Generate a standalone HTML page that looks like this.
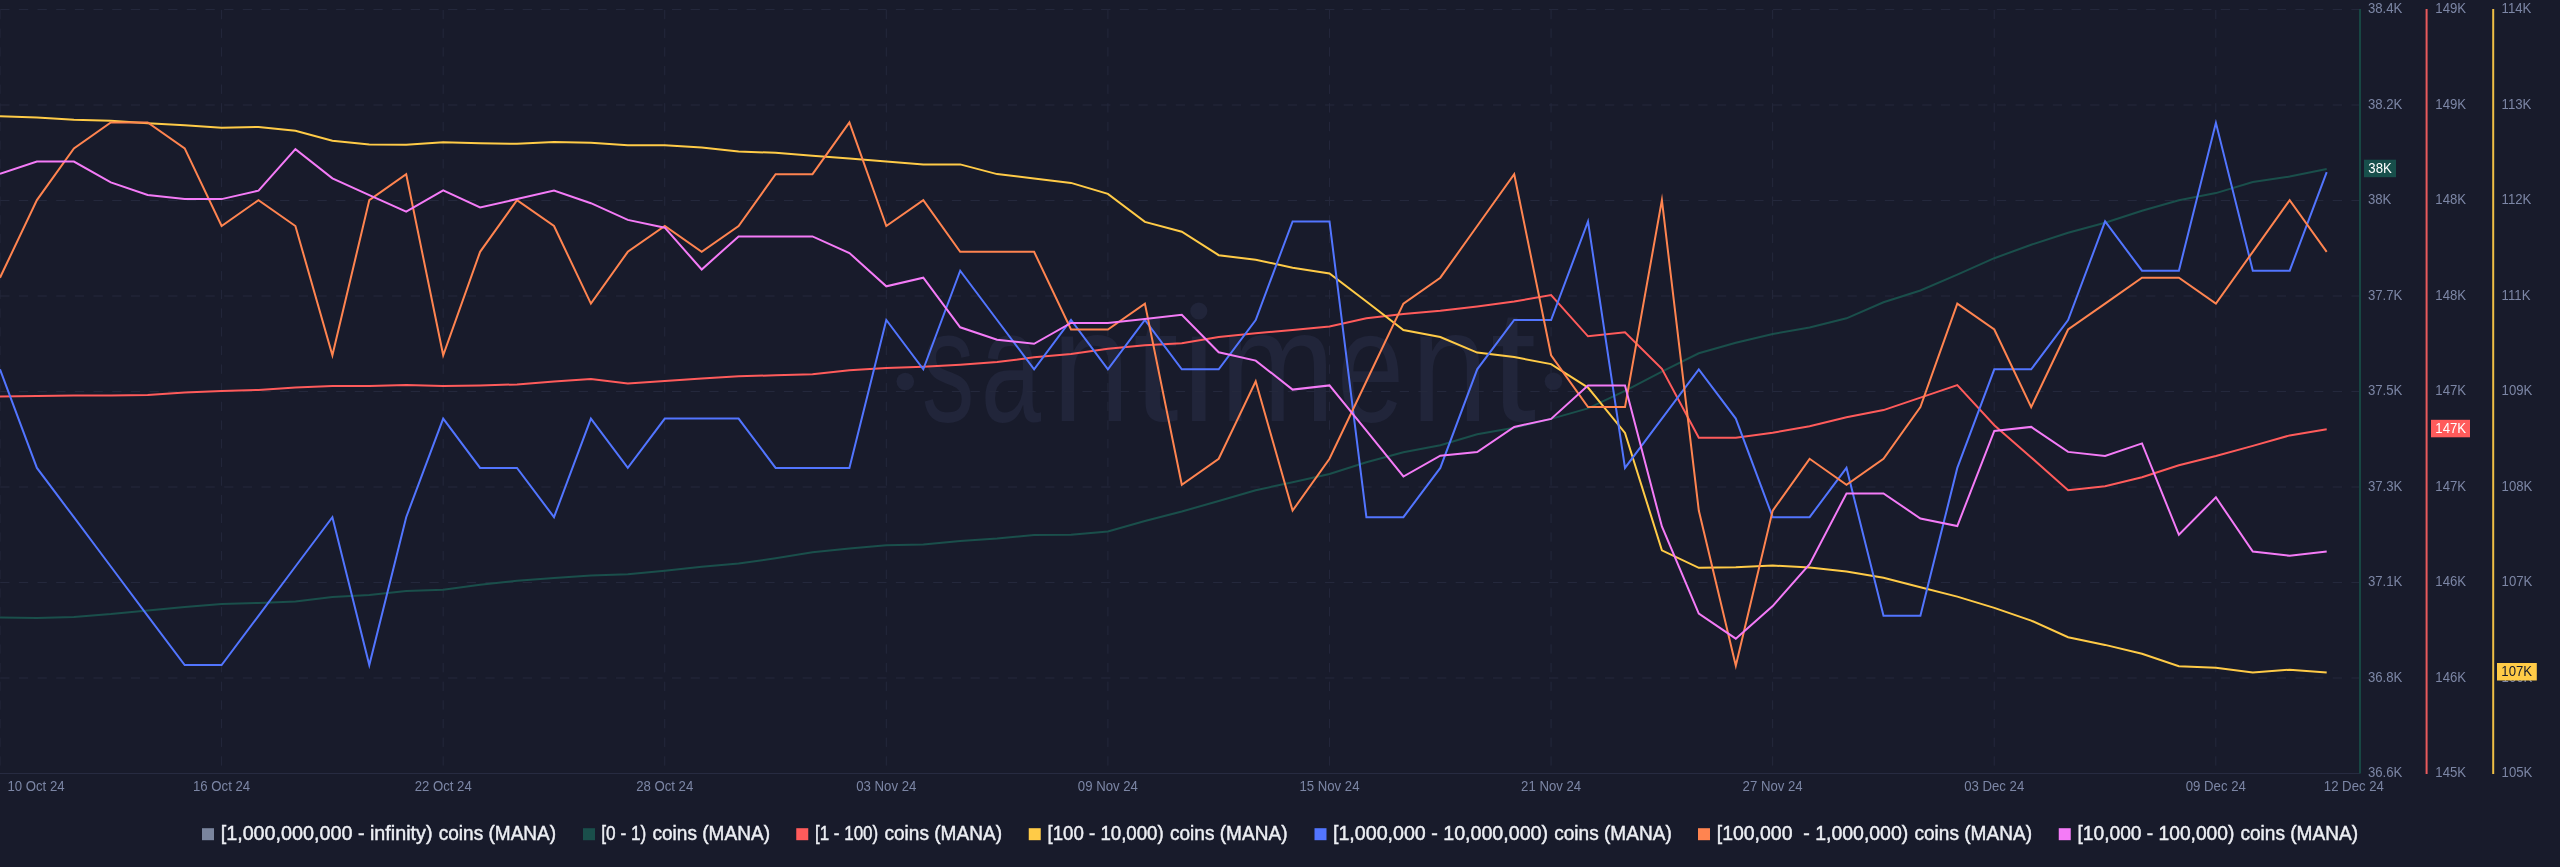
<!DOCTYPE html>
<html><head><meta charset="utf-8"><title>chart</title>
<style>
html,body{margin:0;padding:0;background:#181b2b;}
body{width:2560px;height:867px;overflow:hidden;}
svg{display:block;font-family:"Liberation Sans",sans-serif;will-change:transform;}
.ax{font-size:13.85px;fill:#7c86a5;}
.lg text{font-size:19.7px;fill:#eceef3;stroke:#eceef3;stroke-width:0.45px;}
</style></head><body>
<svg width="2560" height="867" viewBox="0 0 2560 867">
<rect width="2560" height="867" fill="#181b2b"/>
<g fill="#21253a" font-size="160">
<circle cx="905.3" cy="381.5" r="8.8"/><circle cx="1553.5" cy="381.2" r="8.8"/>
<text transform="translate(921.77,421.3) scale(0.6593,1)" x="0" y="0">s</text>
<text transform="translate(980.69,421.3) scale(0.6777,1)" x="0" y="0">a</text>
<text transform="translate(1051.97,421.3) scale(0.8784,1)" x="0" y="0">n</text>
<text transform="translate(1133.02,421.3) scale(1.0278,1)" x="0" y="0">t</text>
<text transform="translate(1177.46,421.3) scale(0.9599,1)" x="0" y="0">ı</text>
<circle cx="1198.8" cy="311" r="8.6"/>
<text transform="translate(1219.81,421.3) scale(0.8652,1)" x="0" y="0">m</text>
<text transform="translate(1336.88,421.3) scale(0.7526,1)" x="0" y="0">e</text>
<text transform="translate(1411.09,421.3) scale(0.8666,1)" x="0" y="0">n</text>
<text transform="translate(1490.52,421.3) scale(1.0278,1)" x="0" y="0">t</text>
</g>
<g stroke="#24283c" stroke-width="1" stroke-dasharray="9.33 9.33" fill="none">
<line x1="0.2" y1="9.5" x2="2359" y2="9.5"/>
<line x1="0.2" y1="105.0" x2="2359" y2="105.0"/>
<line x1="0.2" y1="200.5" x2="2359" y2="200.5"/>
<line x1="0.2" y1="296.0" x2="2359" y2="296.0"/>
<line x1="0.2" y1="391.5" x2="2359" y2="391.5"/>
<line x1="0.2" y1="487.0" x2="2359" y2="487.0"/>
<line x1="0.2" y1="582.5" x2="2359" y2="582.5"/>
<line x1="0.2" y1="678.0" x2="2359" y2="678.0"/>
<line x1="0.00" y1="9.9" x2="0.00" y2="773"/>
<line x1="221.58" y1="9.9" x2="221.58" y2="773"/>
<line x1="443.16" y1="9.9" x2="443.16" y2="773"/>
<line x1="664.74" y1="9.9" x2="664.74" y2="773"/>
<line x1="886.32" y1="9.9" x2="886.32" y2="773"/>
<line x1="1107.90" y1="9.9" x2="1107.90" y2="773"/>
<line x1="1329.48" y1="9.9" x2="1329.48" y2="773"/>
<line x1="1551.06" y1="9.9" x2="1551.06" y2="773"/>
<line x1="1772.64" y1="9.9" x2="1772.64" y2="773"/>
<line x1="1994.22" y1="9.9" x2="1994.22" y2="773"/>
<line x1="2215.80" y1="9.9" x2="2215.80" y2="773"/>
</g>
<line x1="0" y1="773.5" x2="2360" y2="773.5" stroke="#272b41" stroke-width="1"/>
<polyline points="0.0,617.4 36.9,617.9 73.9,616.9 110.8,614.1 147.7,610.4 184.7,606.9 221.6,603.9 258.5,602.9 295.4,601.4 332.4,596.9 369.3,594.9 406.2,591.1 443.2,589.8 480.1,584.8 517.0,580.8 554.0,578.1 590.9,575.6 627.8,574.3 664.8,570.8 701.7,566.8 738.6,563.6 775.6,558.3 812.5,552.3 849.4,548.5 886.3,545.3 923.3,544.5 960.2,541.0 997.1,538.5 1034.1,535.0 1071.0,534.8 1107.9,531.5 1144.9,521.0 1181.8,511.5 1218.7,501.0 1255.7,490.2 1292.6,482.2 1329.5,474.0 1366.4,462.2 1403.4,452.2 1440.3,445.2 1477.2,434.2 1514.2,427.7 1551.1,418.9 1588.0,408.4 1625.0,390.9 1661.9,371.6 1698.8,353.3 1735.8,342.8 1772.7,334.0 1809.6,327.5 1846.5,318.3 1883.5,302.3 1920.4,290.5 1957.3,274.7 1994.3,258.2 2031.2,244.7 2068.1,232.7 2105.1,222.7 2142.0,210.7 2178.9,200.2 2215.9,193.1 2252.8,182.1 2289.7,176.6 2326.7,169.1" fill="none" stroke="#1a4f4b" stroke-width="2" stroke-linejoin="miter" stroke-miterlimit="10"/>
<polyline points="0.0,396.6 36.9,396.1 73.9,395.6 110.8,395.4 147.7,394.9 184.7,392.4 221.6,391.1 258.5,389.9 295.4,387.4 332.4,385.9 369.3,385.9 406.2,384.9 443.2,386.1 480.1,385.4 517.0,384.4 554.0,381.6 590.9,378.9 627.8,383.6 664.8,380.9 701.7,378.6 738.6,376.3 775.6,375.3 812.5,374.3 849.4,370.3 886.3,368.1 923.3,366.8 960.2,364.8 997.1,362.1 1034.1,357.3 1071.0,354.1 1107.9,348.8 1144.9,345.3 1181.8,343.3 1218.7,337.1 1255.7,333.3 1292.6,330.0 1329.5,326.5 1366.4,318.3 1403.4,314.0 1440.3,310.8 1477.2,306.5 1514.2,301.5 1551.1,295.0 1588.0,336.3 1625.0,332.3 1661.9,368.8 1698.8,437.7 1735.8,437.7 1772.7,432.7 1809.6,426.2 1846.5,417.2 1883.5,410.1 1920.4,397.6 1957.3,385.1 1994.3,425.2 2031.2,457.4 2068.1,490.2 2105.1,486.2 2142.0,477.2 2178.9,465.2 2215.9,456.0 2252.8,445.9 2289.7,435.4 2326.7,429.2" fill="none" stroke="#ff5b5b" stroke-width="2" stroke-linejoin="miter" stroke-miterlimit="10"/>
<polyline points="0.0,116.3 36.9,117.5 73.9,119.8 110.8,120.8 147.7,123.3 184.7,125.3 221.6,127.8 258.5,127.0 295.4,130.8 332.4,140.8 369.3,144.6 406.2,144.8 443.2,142.3 480.1,143.3 517.0,143.8 554.0,142.1 590.9,142.8 627.8,145.2 664.8,145.3 701.7,147.6 738.6,151.6 775.6,152.8 812.5,155.8 849.4,158.6 886.3,161.6 923.3,164.6 960.2,164.4 997.1,174.1 1034.1,178.4 1071.0,182.9 1107.9,193.9 1144.9,221.9 1181.8,231.7 1218.7,255.2 1255.7,259.7 1292.6,267.7 1329.5,273.5 1366.4,301.5 1403.4,330.0 1440.3,337.0 1477.2,352.6 1514.2,357.1 1551.1,364.1 1588.0,387.6 1625.0,432.9 1661.9,550.3 1698.8,567.8 1735.8,567.3 1772.7,565.6 1809.6,567.5 1846.5,571.6 1883.5,577.8 1920.4,587.3 1957.3,596.6 1994.3,607.9 2031.2,620.6 2068.1,637.2 2105.1,644.9 2142.0,653.7 2178.9,666.2 2215.9,667.7 2252.8,672.4 2289.7,669.7 2326.7,672.4" fill="none" stroke="#ffcb47" stroke-width="2" stroke-linejoin="miter" stroke-miterlimit="10"/>
<polyline points="0.0,369.3 36.9,467.9 73.9,517.2 110.8,566.5 147.7,615.8 184.7,665.1 221.6,665.1 258.5,615.8 295.4,566.5 332.4,517.2 369.3,665.1 406.2,517.2 443.2,418.6 480.1,467.9 517.0,467.9 554.0,517.2 590.9,418.6 627.8,467.9 664.8,418.6 701.7,418.6 738.6,418.6 775.6,467.9 812.5,467.9 849.4,467.9 886.3,320.0 923.3,369.3 960.2,270.7 997.1,320.0 1034.1,369.3 1071.0,320.0 1107.9,369.3 1144.9,320.0 1181.8,369.3 1218.7,369.3 1255.7,320.0 1292.6,221.4 1329.5,221.4 1366.4,517.2 1403.4,517.2 1440.3,467.9 1477.2,369.3 1514.2,320.0 1551.1,320.0 1588.0,221.4 1625.0,467.9 1661.9,418.6 1698.8,369.3 1735.8,418.6 1772.7,517.2 1809.6,517.2 1846.5,467.9 1883.5,615.8 1920.4,615.8 1957.3,467.9 1994.3,369.3 2031.2,369.3 2068.1,320.0 2105.1,221.4 2142.0,270.7 2178.9,270.7 2215.9,122.8 2252.8,270.7 2289.7,270.7 2326.7,172.1" fill="none" stroke="#5275ff" stroke-width="2" stroke-linejoin="miter" stroke-miterlimit="10"/>
<polyline points="0.0,277.7 36.9,200.1 73.9,148.4 110.8,122.5 147.7,122.5 184.7,148.4 221.6,226.0 258.5,200.1 295.4,226.0 332.4,355.3 369.3,200.1 406.2,174.2 443.2,355.3 480.1,251.8 517.0,200.1 554.0,226.0 590.9,303.6 627.8,251.8 664.8,226.0 701.7,251.8 738.6,226.0 775.6,174.2 812.5,174.2 849.4,122.5 886.3,226.0 923.3,200.1 960.2,251.8 997.1,251.8 1034.1,251.8 1071.0,329.5 1107.9,329.5 1144.9,303.6 1181.8,484.7 1218.7,458.8 1255.7,381.2 1292.6,510.6 1329.5,458.8 1366.4,381.2 1403.4,303.6 1440.3,277.7 1477.2,226.0 1514.2,174.2 1551.1,355.3 1588.0,407.1 1625.0,407.1 1661.9,200.1 1698.8,510.6 1735.8,665.8 1772.7,510.6 1809.6,458.8 1846.5,484.7 1883.5,458.8 1920.4,407.1 1957.3,303.6 1994.3,329.5 2031.2,407.1 2068.1,329.5 2105.1,303.6 2142.0,277.7 2178.9,277.7 2215.9,303.6 2252.8,251.8 2289.7,200.1 2326.7,251.8" fill="none" stroke="#ff8450" stroke-width="2" stroke-linejoin="miter" stroke-miterlimit="10"/>
<polyline points="0.0,173.9 36.9,161.6 73.9,161.6 110.8,182.4 147.7,194.9 184.7,199.1 221.6,199.1 258.5,190.6 295.4,149.1 332.4,178.4 369.3,195.1 406.2,211.7 443.2,190.4 480.1,207.4 517.0,199.1 554.0,190.6 590.9,203.2 627.8,219.9 664.8,227.7 701.7,269.5 738.6,236.4 775.6,236.4 812.5,236.4 849.4,253.0 886.3,286.3 923.3,277.7 960.2,327.3 997.1,339.8 1034.1,343.8 1071.0,323.0 1107.9,323.0 1144.9,319.0 1181.8,314.8 1218.7,352.3 1255.7,360.6 1292.6,389.6 1329.5,385.4 1366.4,430.7 1403.4,476.5 1440.3,455.7 1477.2,452.0 1514.2,426.9 1551.1,418.9 1588.0,385.6 1625.0,385.6 1661.9,526.5 1698.8,613.6 1735.8,638.7 1772.7,606.1 1809.6,564.1 1846.5,493.5 1883.5,493.5 1920.4,518.5 1957.3,526.0 1994.3,430.9 2031.2,426.9 2068.1,451.9 2105.1,456.0 2142.0,443.4 2178.9,534.8 2215.9,497.3 2252.8,551.5 2289.7,555.8 2326.7,551.5" fill="none" stroke="#f47bf7" stroke-width="2" stroke-linejoin="miter" stroke-miterlimit="10"/>
<line x1="2360" y1="9" x2="2360" y2="773.5" stroke="#174643" stroke-width="2"/>
<line x1="2426.6" y1="9" x2="2426.6" y2="774" stroke="#e85a5c" stroke-width="2"/>
<line x1="2493.2" y1="9" x2="2493.2" y2="774" stroke="#eebf45" stroke-width="2"/>
<g class="ax">
<text transform="translate(2367.9,13.1) scale(0.952,1)">38.4K</text><text transform="translate(2435.3,13.1) scale(0.952,1)">149K</text><text transform="translate(2501.6,13.1) scale(0.952,1)">114K</text>
<text transform="translate(2367.9,108.6) scale(0.952,1)">38.2K</text><text transform="translate(2435.3,108.6) scale(0.952,1)">149K</text><text transform="translate(2501.6,108.6) scale(0.952,1)">113K</text>
<text transform="translate(2367.9,204.1) scale(0.952,1)">38K</text><text transform="translate(2435.3,204.1) scale(0.952,1)">148K</text><text transform="translate(2501.6,204.1) scale(0.952,1)">112K</text>
<text transform="translate(2367.9,299.6) scale(0.952,1)">37.7K</text><text transform="translate(2435.3,299.6) scale(0.952,1)">148K</text><text transform="translate(2501.6,299.6) scale(0.952,1)">111K</text>
<text transform="translate(2367.9,395.1) scale(0.952,1)">37.5K</text><text transform="translate(2435.3,395.1) scale(0.952,1)">147K</text><text transform="translate(2501.6,395.1) scale(0.952,1)">109K</text>
<text transform="translate(2367.9,490.6) scale(0.952,1)">37.3K</text><text transform="translate(2435.3,490.6) scale(0.952,1)">147K</text><text transform="translate(2501.6,490.6) scale(0.952,1)">108K</text>
<text transform="translate(2367.9,586.1) scale(0.952,1)">37.1K</text><text transform="translate(2435.3,586.1) scale(0.952,1)">146K</text><text transform="translate(2501.6,586.1) scale(0.952,1)">107K</text>
<text transform="translate(2367.9,681.6) scale(0.952,1)">36.8K</text><text transform="translate(2435.3,681.6) scale(0.952,1)">146K</text><text transform="translate(2501.6,681.6) scale(0.952,1)">106K</text>
<text transform="translate(2367.9,777.1) scale(0.952,1)">36.6K</text><text transform="translate(2435.3,777.1) scale(0.952,1)">145K</text><text transform="translate(2501.6,777.1) scale(0.952,1)">105K</text>
<text transform="translate(7.4,791.0) scale(0.952,1)">10 Oct 24</text>
<text transform="translate(221.6,791.0) scale(0.952,1)" text-anchor="middle">16 Oct 24</text>
<text transform="translate(443.2,791.0) scale(0.952,1)" text-anchor="middle">22 Oct 24</text>
<text transform="translate(664.7,791.0) scale(0.952,1)" text-anchor="middle">28 Oct 24</text>
<text transform="translate(886.3,791.0) scale(0.952,1)" text-anchor="middle">03 Nov 24</text>
<text transform="translate(1107.9,791.0) scale(0.952,1)" text-anchor="middle">09 Nov 24</text>
<text transform="translate(1329.5,791.0) scale(0.952,1)" text-anchor="middle">15 Nov 24</text>
<text transform="translate(1551.1,791.0) scale(0.952,1)" text-anchor="middle">21 Nov 24</text>
<text transform="translate(1772.6,791.0) scale(0.952,1)" text-anchor="middle">27 Nov 24</text>
<text transform="translate(1994.2,791.0) scale(0.952,1)" text-anchor="middle">03 Dec 24</text>
<text transform="translate(2215.8,791.0) scale(0.952,1)" text-anchor="middle">09 Dec 24</text>
<text transform="translate(2323.8,791.0) scale(0.952,1)">12 Dec 24</text>
<rect x="2364" y="159.7" width="32" height="17.5" fill="#174f4b"/><text transform="translate(2368.3,172.9) scale(0.952,1)" fill="#ffffff">38K</text>
<rect x="2431" y="419.8" width="39" height="17.5" fill="#ff5b5b"/><text transform="translate(2435.3,433.0) scale(0.952,1)" fill="#ffffff">147K</text>
<rect x="2497" y="663.0" width="39.8" height="17.5" fill="#ffcb47"/><text transform="translate(2501.3,676.2) scale(0.952,1)" fill="#181b2b">107K</text>
</g>
<g class="lg">
<rect x="202" y="828.2" width="12" height="12" fill="#7a859e"/>
<text x="220.7" y="840.4" textLength="211.8" lengthAdjust="spacingAndGlyphs" style="white-space:pre">[1,000,000,000 - infinity)</text>
<text x="438.70" y="840.4" textLength="117.5" lengthAdjust="spacingAndGlyphs">coins (MANA)</text>
<rect x="583" y="828.2" width="12" height="12" fill="#1a4f4b"/>
<text x="601.25" y="840.4" textLength="45.0" lengthAdjust="spacingAndGlyphs" style="white-space:pre">[0 - 1)</text>
<text x="652.50" y="840.4" textLength="117.5" lengthAdjust="spacingAndGlyphs">coins (MANA)</text>
<rect x="796.25" y="828.2" width="12" height="12" fill="#ff5b5b"/>
<text x="815" y="840.4" textLength="63.2" lengthAdjust="spacingAndGlyphs" style="white-space:pre">[1 - 100)</text>
<text x="884.50" y="840.4" textLength="117.5" lengthAdjust="spacingAndGlyphs">coins (MANA)</text>
<rect x="1028.75" y="828.2" width="12" height="12" fill="#ffcb47"/>
<text x="1047.5" y="840.4" textLength="116.2" lengthAdjust="spacingAndGlyphs" style="white-space:pre">[100 - 10,000)</text>
<text x="1170.00" y="840.4" textLength="117.5" lengthAdjust="spacingAndGlyphs">coins (MANA)</text>
<rect x="1314.5" y="828.2" width="12" height="12" fill="#5275ff"/>
<text x="1333" y="840.4" textLength="215.0" lengthAdjust="spacingAndGlyphs" style="white-space:pre">[1,000,000 - 10,000,000)</text>
<text x="1554.25" y="840.4" textLength="117.5" lengthAdjust="spacingAndGlyphs">coins (MANA)</text>
<rect x="1698" y="828.2" width="12" height="12" fill="#ff8450"/>
<text x="1716.75" y="840.4" textLength="191.5" lengthAdjust="spacingAndGlyphs" style="white-space:pre">[100,000  - 1,000,000)</text>
<text x="1914.50" y="840.4" textLength="117.5" lengthAdjust="spacingAndGlyphs">coins (MANA)</text>
<rect x="2058.75" y="828.2" width="12" height="12" fill="#f47bf7"/>
<text x="2077.5" y="840.4" textLength="156.8" lengthAdjust="spacingAndGlyphs" style="white-space:pre">[10,000 - 100,000)</text>
<text x="2240.50" y="840.4" textLength="117.5" lengthAdjust="spacingAndGlyphs">coins (MANA)</text>
</g>
</svg></body></html>
